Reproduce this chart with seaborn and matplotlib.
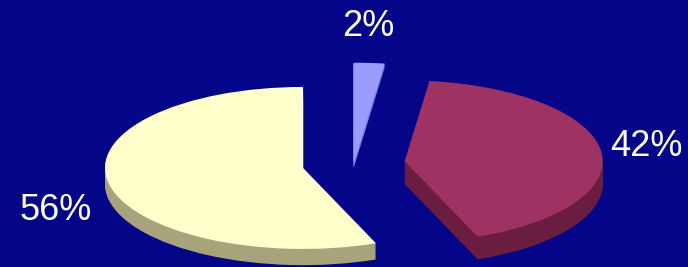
import matplotlib
matplotlib.use("Agg")
import matplotlib.pyplot as plt
import seaborn as sns

# ---- data ----
categories = ["A", "B", "C"]
values = [56, 42, 2]
labels = ["56%", "42%", "2%"]

# ---- style ----
top_colors = ["#ffffcc", "#9e3262", "#9c9cff"]
side_colors = ["#a7a47c", "#6a1d3e", "#7474e6"]
explode = [0.26, 0.26, 0.0]
side_depth = [0.20, 0.28, 0.06]
bg = "#05058a"

sns.set_theme(style="white")
plt.rcParams["font.family"] = ["Liberation Sans", "DejaVu Sans"]

fig = plt.figure(figsize=(6.88, 2.67), dpi=100, facecolor=bg)
ax = fig.add_axes([0, 0, 1, 1])
ax.set_facecolor(bg)

# pixel geometry of the (squashed) pie
cx, cy, rx, ry = 353.6, 164.0, 198.0, 81.0
W, H = 688, 267

n_layers = 28
blue_radius = 1.25

def draw(center_y, colors):
    wedges, _ = ax.pie(values, colors=colors, startangle=90, counterclock=True,
                       explode=explode, center=(0, center_y),
                       wedgeprops=dict(linewidth=0), frame=True)
    wedges[2].set_radius(blue_radius)
    return wedges

dmax = max(side_depth)
for k in range(n_layers, 0, -1):
    d = dmax * k / n_layers
    ws = draw(-d, side_colors)
    for w, dep in zip(ws, side_depth):
        if d > dep:
            w.set_visible(False)
draw(0.0, top_colors)

ax.set_aspect("auto")
ax.set_xlim(-cx / rx, (W - cx) / rx)
ax.set_ylim((cy - H) / ry, cy / ry)
ax.set_xticks([])
ax.set_yticks([])
for s in ax.spines.values():
    s.set_visible(False)

label_px = [(56, 210), (646, 146), (368, 26)]
for lab, (px, py) in zip(labels, label_px):
    ax.text(px / W, 1 - py / H, lab, transform=ax.transAxes, color="white",
            fontsize=26, ha="center", va="center")

fig.savefig("out.png", dpi=100, facecolor=bg)
